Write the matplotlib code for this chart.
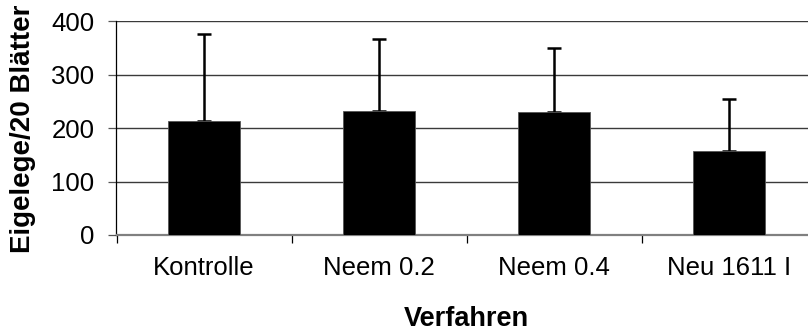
import matplotlib
matplotlib.use("Agg")
import matplotlib.pyplot as plt
import numpy as np

categories = ["Kontrolle", "Neem 0.2", "Neem 0.4", "Neu 1611 I"]
means = [213, 232, 230, 158]
err_upper = [163, 134, 120, 97]
yticks = [0, 100, 200, 300, 400]

plt.rcParams['font.family'] = ['Liberation Sans', 'DejaVu Sans']

W, H = 808, 331
fig = plt.figure(figsize=(W / 100, H / 100), dpi=100)
left_px, right_px, top_px, bottom_px = 116.5, 816.5, 21.3, 235.0
ax = fig.add_axes([left_px / W, 1 - bottom_px / H, (right_px - left_px) / W, (bottom_px - top_px) / H])

x = np.arange(len(categories))
ax.bar(x, means, width=0.41, color="black", edgecolor="#555555", linewidth=0.6, zorder=3)
ax.errorbar(x, means, yerr=[np.zeros(len(means)), err_upper], fmt="none",
            ecolor="black", elinewidth=1.8, capsize=5.3, capthick=1.8, zorder=2)

ax.set_xlim(-0.5, len(categories) - 0.5)
ax.set_ylim(0, 400)
ax.set_yticks(yticks)
ax.yaxis.grid(True, color="#3a3a3a", linewidth=1.0, zorder=0)
ax.set_axisbelow(True)

for s in ["top", "right"]:
    ax.spines[s].set_visible(False)
ax.spines["left"].set_color("black")
ax.spines["left"].set_linewidth(0.9)
ax.spines["bottom"].set_color("#808080")
ax.spines["bottom"].set_linewidth(1.6)

ax.set_xticks(x)
ax.set_xticklabels(categories, fontsize=18.5)
ax.set_xticks(np.arange(-0.5, len(categories), 1.0), minor=True)
ax.tick_params(axis="x", which="major", length=0, pad=15)
ax.tick_params(axis="x", which="minor", length=6, width=0.9, direction="out", color="black")
ax.tick_params(axis="y", length=6, width=0.9, direction="out", pad=10, labelsize=18.5, color="#555555")

fig.text(23 / W, 1 - 129 / H, "Eigelege/20 Blätter", rotation=90, fontsize=20,
         fontweight="bold", ha="center", va="center")
fig.text(466.5 / W, 5 / H, "Verfahren", fontsize=19.5, fontweight="bold",
         ha="center", va="baseline")

fig.savefig("out.png", dpi=100)
